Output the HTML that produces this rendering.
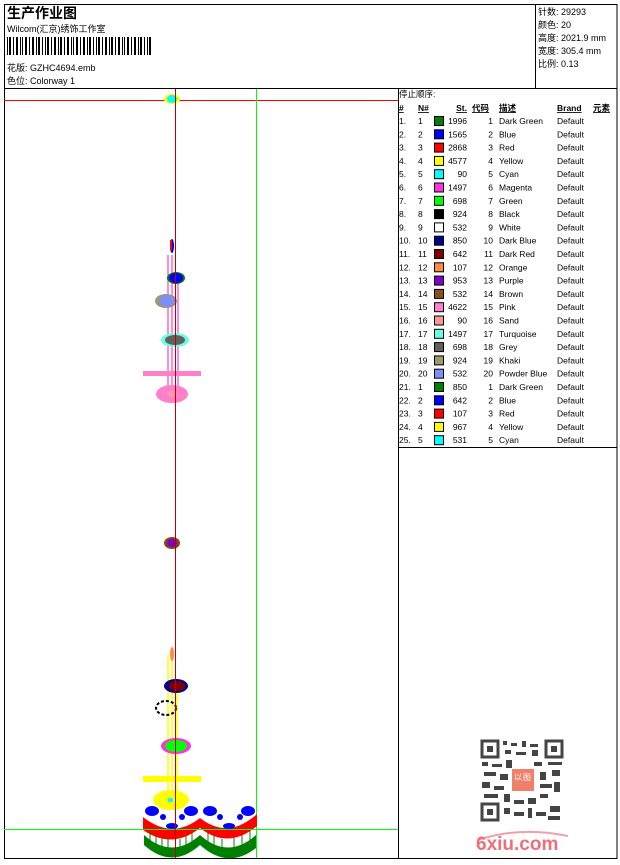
<!DOCTYPE html>
<html><head><meta charset="utf-8"><style>
body{margin:0;background:#fff;}
svg text{font-family:"Liberation Sans","Noto Sans CJK SC",sans-serif;fill:#000;}
</style></head><body>
<svg width="620" height="860" viewBox="0 0 620 860" xmlns="http://www.w3.org/2000/svg">
<rect x="0" y="0" width="620" height="860" fill="#fff"/>
<!-- frames -->
<rect x="4.5" y="4.5" width="612.5" height="854" fill="none" stroke="#000" stroke-width="1"/>
<line x1="4" y1="88.5" x2="617" y2="88.5" stroke="#000"/>
<line x1="535.5" y1="4" x2="535.5" y2="88" stroke="#000"/>
<line x1="398.5" y1="88" x2="398.5" y2="858" stroke="#000"/>
<line x1="398" y1="447.5" x2="617" y2="447.5" stroke="#000"/>
<!-- header -->
<text x="7" y="18" font-size="14" font-weight="bold">生产作业图</text>
<text x="7" y="32" font-size="9">Wilcom(汇京)绣饰工作室</text>
<g fill="#000">
<rect x="7" y="37" width="1" height="18"/><rect x="9" y="37" width="2" height="18"/><rect x="13" y="37" width="1" height="18"/><rect x="16" y="37" width="2" height="18"/><rect x="20" y="37" width="1" height="18"/><rect x="22" y="37" width="1" height="18"/><rect x="25" y="37" width="2" height="18"/><rect x="29" y="37" width="1" height="18"/><rect x="32" y="37" width="2" height="18"/><rect x="36" y="37" width="1" height="18"/><rect x="38" y="37" width="2" height="18"/><rect x="42" y="37" width="1" height="18"/><rect x="45" y="37" width="1" height="18"/><rect x="47" y="37" width="2" height="18"/><rect x="51" y="37" width="1" height="18"/><rect x="54" y="37" width="2" height="18"/><rect x="58" y="37" width="1" height="18"/><rect x="60" y="37" width="2" height="18"/><rect x="64" y="37" width="1" height="18"/><rect x="67" y="37" width="2" height="18"/><rect x="71" y="37" width="1" height="18"/><rect x="73" y="37" width="1" height="18"/><rect x="76" y="37" width="2" height="18"/><rect x="80" y="37" width="1" height="18"/><rect x="83" y="37" width="2" height="18"/><rect x="87" y="37" width="1" height="18"/><rect x="89" y="37" width="2" height="18"/><rect x="93" y="37" width="1" height="18"/><rect x="96" y="37" width="1" height="18"/><rect x="98" y="37" width="2" height="18"/><rect x="102" y="37" width="1" height="18"/><rect x="105" y="37" width="2" height="18"/><rect x="109" y="37" width="1" height="18"/><rect x="111" y="37" width="2" height="18"/><rect x="115" y="37" width="1" height="18"/><rect x="118" y="37" width="2" height="18"/><rect x="122" y="37" width="1" height="18"/><rect x="124" y="37" width="1" height="18"/><rect x="127" y="37" width="2" height="18"/><rect x="131" y="37" width="1" height="18"/><rect x="134" y="37" width="2" height="18"/><rect x="138" y="37" width="1" height="18"/><rect x="140" y="37" width="2" height="18"/><rect x="144" y="37" width="1" height="18"/><rect x="147" y="37" width="1" height="18"/><rect x="149" y="37" width="2" height="18"/>
</g>
<text x="7" y="71" font-size="9">花版:  GZHC4694.emb</text>
<text x="7" y="84" font-size="9">色位:  Colorway 1</text>
<text x="538" y="15" font-size="9">针数:  29293</text>
<text x="538" y="28" font-size="9">颜色:  20</text>
<text x="538" y="41" font-size="9">高度:  2021.9 mm</text>
<text x="538" y="54" font-size="9">宽度:  305.4 mm</text>
<text x="538" y="67" font-size="9">比例:  0.13</text>
<!-- guide lines -->
<line x1="4" y1="100.5" x2="398" y2="100.5" stroke="#f00"/>
<line x1="256.5" y1="89" x2="256.5" y2="858" stroke="#0f0"/>
<!-- top element -->
<ellipse cx="172" cy="99" rx="8" ry="5" fill="#ff0"/><ellipse cx="172" cy="99" rx="5" ry="4" fill="#0ff"/>
<!-- upper stack -->
<g stroke="#ff69c8" stroke-width="1.5"><line x1="168" y1="255" x2="168" y2="395"/><line x1="172" y1="255" x2="172" y2="395"/><line x1="178" y1="280" x2="178" y2="395"/></g>
<ellipse cx="172" cy="246" rx="2" ry="7" fill="#00f"/><rect x="170" y="240" width="2" height="10" fill="#f00"/>
<ellipse cx="176" cy="278" rx="9" ry="6" fill="#008000"/><ellipse cx="176" cy="278" rx="7" ry="5" fill="#00f"/>
<ellipse cx="166" cy="301" rx="11" ry="7" fill="#9a9a6a"/><ellipse cx="167" cy="301" rx="8" ry="6" fill="#7b8ff7"/>
<ellipse cx="175" cy="340" rx="14" ry="7" fill="#66ffe0"/><ellipse cx="175" cy="340" rx="10" ry="5" fill="#606060"/>
<rect x="143" y="371" width="58" height="5" fill="#ff80c8"/>
<ellipse cx="172" cy="394" rx="16" ry="9" fill="#ff80c8"/><ellipse cx="172" cy="394" rx="5" ry="3" fill="#f9a"/>
<!-- middle -->
<ellipse cx="172" cy="543" rx="8" ry="6" fill="#8b4513"/><ellipse cx="172" cy="543" rx="5" ry="4" fill="#7f00c8"/>
<!-- lower stack -->
<g stroke="#ff0" stroke-width="1.5"><line x1="168" y1="655" x2="168" y2="800"/><line x1="172" y1="655" x2="172" y2="800"/><line x1="177" y1="690" x2="177" y2="800"/></g>
<ellipse cx="172" cy="654" rx="2" ry="7" fill="#ff8c40"/>
<ellipse cx="176" cy="686" rx="12" ry="7" fill="#00008b"/><ellipse cx="177" cy="686" rx="8" ry="5" fill="#800000"/>
<ellipse cx="166" cy="708" rx="10" ry="7" fill="none" stroke="#000" stroke-width="2" stroke-dasharray="3 2"/>
<ellipse cx="176" cy="746" rx="15" ry="8" fill="#ff30e0"/><ellipse cx="176" cy="746" rx="11" ry="6" fill="#0f0"/>
<rect x="143" y="776" width="58" height="6" fill="#ff0"/>
<ellipse cx="171" cy="800" rx="18" ry="10" fill="#ff0"/><rect x="168" y="798" width="5" height="4" fill="#0ff"/>
<!-- border pattern -->
<g>
<path d="M144 835 Q172 860 200 835 Q228 860 256 835 L256 848 Q228 870 200 845 Q172 870 144 845Z" fill="#008000"/>
<path d="M143 817 L143 830 Q172 850 200 828 Q228 850 257 826 L257 814 Q228 840 200 818 Q172 840 143 817Z" fill="#f00"/>
<g stroke="#008000" stroke-width="1"><line x1="150" y1="832" x2="150" y2="842"/><line x1="156" y1="835" x2="156" y2="846"/><line x1="162" y1="838" x2="162" y2="849"/><line x1="168" y1="839" x2="168" y2="850"/><line x1="180" y1="839" x2="180" y2="850"/><line x1="186" y1="836" x2="186" y2="847"/><line x1="192" y1="833" x2="192" y2="844"/><line x1="208" y1="833" x2="208" y2="844"/><line x1="214" y1="836" x2="214" y2="847"/><line x1="222" y1="839" x2="222" y2="850"/><line x1="234" y1="838" x2="234" y2="849"/><line x1="242" y1="835" x2="242" y2="846"/><line x1="250" y1="831" x2="250" y2="842"/></g>
<g fill="#00f"><ellipse cx="152" cy="811" rx="7" ry="5"/><ellipse cx="191" cy="811" rx="7" ry="5"/><ellipse cx="210" cy="811" rx="7" ry="5"/><ellipse cx="248" cy="811" rx="7" ry="5"/><ellipse cx="172" cy="826" rx="6" ry="3"/><ellipse cx="229" cy="826" rx="6" ry="3"/><ellipse cx="163" cy="817" rx="3" ry="3"/><ellipse cx="182" cy="817" rx="3" ry="3"/><ellipse cx="220" cy="817" rx="3" ry="3"/><ellipse cx="240" cy="817" rx="3" ry="3"/></g>
</g>
<line x1="4" y1="829.5" x2="398" y2="829.5" stroke="#0f0"/>
<line x1="175.5" y1="89" x2="175.5" y2="858" stroke="#c00000"/>
<!-- table -->
<g font-size="8.5">
<text x="399" y="97">停止顺序:</text>
<g font-weight="bold" text-decoration="underline">
<text x="399" y="111">#</text><text x="418" y="111">N#</text><text x="467" y="111" text-anchor="end">St.</text><text x="472" y="111">代码</text><text x="499" y="111">描述</text><text x="557" y="111">Brand</text><text x="593" y="111">元素</text>
</g>
</g>
<g font-size="8.5" id="rows">
<g transform="translate(0,124)"><text x="399">1.</text><text x="418">1</text><rect x="434.5" y="-7.5" width="9" height="9" fill="#008000" stroke="#000"/><text x="467" text-anchor="end">1996</text><text x="493" text-anchor="end">1</text><text x="499">Dark Green</text><text x="557">Default</text></g>
<g transform="translate(0,137.3)"><text x="399">2.</text><text x="418">2</text><rect x="434.5" y="-7.5" width="9" height="9" fill="#00f" stroke="#000"/><text x="467" text-anchor="end">1565</text><text x="493" text-anchor="end">2</text><text x="499">Blue</text><text x="557">Default</text></g>
<g transform="translate(0,150.6)"><text x="399">3.</text><text x="418">3</text><rect x="434.5" y="-7.5" width="9" height="9" fill="#f00" stroke="#000"/><text x="467" text-anchor="end">2868</text><text x="493" text-anchor="end">3</text><text x="499">Red</text><text x="557">Default</text></g>
<g transform="translate(0,163.9)"><text x="399">4.</text><text x="418">4</text><rect x="434.5" y="-7.5" width="9" height="9" fill="#ff0" stroke="#000"/><text x="467" text-anchor="end">4577</text><text x="493" text-anchor="end">4</text><text x="499">Yellow</text><text x="557">Default</text></g>
<g transform="translate(0,177.2)"><text x="399">5.</text><text x="418">5</text><rect x="434.5" y="-7.5" width="9" height="9" fill="#0ff" stroke="#000"/><text x="467" text-anchor="end">90</text><text x="493" text-anchor="end">5</text><text x="499">Cyan</text><text x="557">Default</text></g>
<g transform="translate(0,190.5)"><text x="399">6.</text><text x="418">6</text><rect x="434.5" y="-7.5" width="9" height="9" fill="#ff30e0" stroke="#000"/><text x="467" text-anchor="end">1497</text><text x="493" text-anchor="end">6</text><text x="499">Magenta</text><text x="557">Default</text></g>
<g transform="translate(0,203.8)"><text x="399">7.</text><text x="418">7</text><rect x="434.5" y="-7.5" width="9" height="9" fill="#0f0" stroke="#000"/><text x="467" text-anchor="end">698</text><text x="493" text-anchor="end">7</text><text x="499">Green</text><text x="557">Default</text></g>
<g transform="translate(0,217.1)"><text x="399">8.</text><text x="418">8</text><rect x="434.5" y="-7.5" width="9" height="9" fill="#000" stroke="#000"/><text x="467" text-anchor="end">924</text><text x="493" text-anchor="end">8</text><text x="499">Black</text><text x="557">Default</text></g>
<g transform="translate(0,230.4)"><text x="399">9.</text><text x="418">9</text><rect x="434.5" y="-7.5" width="9" height="9" fill="#fff" stroke="#000"/><text x="467" text-anchor="end">532</text><text x="493" text-anchor="end">9</text><text x="499">White</text><text x="557">Default</text></g>
<g transform="translate(0,243.7)"><text x="399">10.</text><text x="418">10</text><rect x="434.5" y="-7.5" width="9" height="9" fill="#00008b" stroke="#000"/><text x="467" text-anchor="end">850</text><text x="493" text-anchor="end">10</text><text x="499">Dark Blue</text><text x="557">Default</text></g>
<g transform="translate(0,257)"><text x="399">11.</text><text x="418">11</text><rect x="434.5" y="-7.5" width="9" height="9" fill="#800000" stroke="#000"/><text x="467" text-anchor="end">642</text><text x="493" text-anchor="end">11</text><text x="499">Dark Red</text><text x="557">Default</text></g>
<g transform="translate(0,270.3)"><text x="399">12.</text><text x="418">12</text><rect x="434.5" y="-7.5" width="9" height="9" fill="#ff8c40" stroke="#000"/><text x="467" text-anchor="end">107</text><text x="493" text-anchor="end">12</text><text x="499">Orange</text><text x="557">Default</text></g>
<g transform="translate(0,283.6)"><text x="399">13.</text><text x="418">13</text><rect x="434.5" y="-7.5" width="9" height="9" fill="#7f00c8" stroke="#000"/><text x="467" text-anchor="end">953</text><text x="493" text-anchor="end">13</text><text x="499">Purple</text><text x="557">Default</text></g>
<g transform="translate(0,296.9)"><text x="399">14.</text><text x="418">14</text><rect x="434.5" y="-7.5" width="9" height="9" fill="#8b5020" stroke="#000"/><text x="467" text-anchor="end">532</text><text x="493" text-anchor="end">14</text><text x="499">Brown</text><text x="557">Default</text></g>
<g transform="translate(0,310.2)"><text x="399">15.</text><text x="418">15</text><rect x="434.5" y="-7.5" width="9" height="9" fill="#ff80c8" stroke="#000"/><text x="467" text-anchor="end">4622</text><text x="493" text-anchor="end">15</text><text x="499">Pink</text><text x="557">Default</text></g>
<g transform="translate(0,323.5)"><text x="399">16.</text><text x="418">16</text><rect x="434.5" y="-7.5" width="9" height="9" fill="#f99890" stroke="#000"/><text x="467" text-anchor="end">90</text><text x="493" text-anchor="end">16</text><text x="499">Sand</text><text x="557">Default</text></g>
<g transform="translate(0,336.8)"><text x="399">17.</text><text x="418">17</text><rect x="434.5" y="-7.5" width="9" height="9" fill="#66ffe0" stroke="#000"/><text x="467" text-anchor="end">1497</text><text x="493" text-anchor="end">17</text><text x="499">Turquoise</text><text x="557">Default</text></g>
<g transform="translate(0,350.1)"><text x="399">18.</text><text x="418">18</text><rect x="434.5" y="-7.5" width="9" height="9" fill="#606060" stroke="#000"/><text x="467" text-anchor="end">698</text><text x="493" text-anchor="end">18</text><text x="499">Grey</text><text x="557">Default</text></g>
<g transform="translate(0,363.4)"><text x="399">19.</text><text x="418">19</text><rect x="434.5" y="-7.5" width="9" height="9" fill="#9a9a6a" stroke="#000"/><text x="467" text-anchor="end">924</text><text x="493" text-anchor="end">19</text><text x="499">Khaki</text><text x="557">Default</text></g>
<g transform="translate(0,376.7)"><text x="399">20.</text><text x="418">20</text><rect x="434.5" y="-7.5" width="9" height="9" fill="#7b8ff7" stroke="#000"/><text x="467" text-anchor="end">532</text><text x="493" text-anchor="end">20</text><text x="499">Powder Blue</text><text x="557">Default</text></g>
<g transform="translate(0,390)"><text x="399">21.</text><text x="418">1</text><rect x="434.5" y="-7.5" width="9" height="9" fill="#008000" stroke="#000"/><text x="467" text-anchor="end">850</text><text x="493" text-anchor="end">1</text><text x="499">Dark Green</text><text x="557">Default</text></g>
<g transform="translate(0,403.3)"><text x="399">22.</text><text x="418">2</text><rect x="434.5" y="-7.5" width="9" height="9" fill="#00f" stroke="#000"/><text x="467" text-anchor="end">642</text><text x="493" text-anchor="end">2</text><text x="499">Blue</text><text x="557">Default</text></g>
<g transform="translate(0,416.6)"><text x="399">23.</text><text x="418">3</text><rect x="434.5" y="-7.5" width="9" height="9" fill="#f00" stroke="#000"/><text x="467" text-anchor="end">107</text><text x="493" text-anchor="end">3</text><text x="499">Red</text><text x="557">Default</text></g>
<g transform="translate(0,429.9)"><text x="399">24.</text><text x="418">4</text><rect x="434.5" y="-7.5" width="9" height="9" fill="#ff0" stroke="#000"/><text x="467" text-anchor="end">967</text><text x="493" text-anchor="end">4</text><text x="499">Yellow</text><text x="557">Default</text></g>
<g transform="translate(0,443.2)"><text x="399">25.</text><text x="418">5</text><rect x="434.5" y="-7.5" width="9" height="9" fill="#0ff" stroke="#000"/><text x="467" text-anchor="end">531</text><text x="493" text-anchor="end">5</text><text x="499">Cyan</text><text x="557">Default</text></g>
</g>
<!-- QR -->
<g fill="#444">
<rect x="481" y="740" width="82" height="80" fill="#fff"/>
<rect x="482" y="741" width="16" height="16" fill="none" stroke="#444" stroke-width="3"/>
<rect x="546" y="741" width="16" height="16" fill="none" stroke="#444" stroke-width="3"/>
<rect x="482" y="804" width="16" height="16" fill="none" stroke="#444" stroke-width="3"/>
<rect x="487" y="746" width="6" height="6"/><rect x="551" y="746" width="6" height="6"/><rect x="487" y="809" width="6" height="6"/>
<rect x="503" y="741" width="4" height="4"/><rect x="511" y="743" width="6" height="3"/><rect x="522" y="741" width="4" height="6"/><rect x="530" y="744" width="8" height="3"/><rect x="505" y="750" width="6" height="4"/><rect x="516" y="752" width="10" height="3"/><rect x="532" y="750" width="6" height="6"/>
<rect x="482" y="762" width="6" height="4"/><rect x="492" y="764" width="10" height="3"/><rect x="506" y="760" width="6" height="8"/><rect x="534" y="762" width="8" height="4"/><rect x="548" y="762" width="14" height="3"/>
<rect x="484" y="772" width="12" height="4"/><rect x="500" y="774" width="8" height="6"/><rect x="540" y="772" width="6" height="8"/><rect x="552" y="770" width="8" height="6"/>
<rect x="482" y="782" width="8" height="6"/><rect x="494" y="786" width="10" height="4"/><rect x="540" y="784" width="12" height="4"/><rect x="554" y="782" width="6" height="10"/>
<rect x="484" y="794" width="14" height="4"/><rect x="504" y="794" width="6" height="8"/><rect x="514" y="800" width="10" height="4"/><rect x="528" y="798" width="8" height="6"/><rect x="540" y="794" width="8" height="4"/>
<rect x="504" y="808" width="6" height="6"/><rect x="514" y="812" width="10" height="4"/><rect x="528" y="808" width="4" height="10"/><rect x="536" y="812" width="10" height="4"/><rect x="550" y="806" width="10" height="6"/><rect x="548" y="816" width="12" height="4"/>
</g>
<rect x="512" y="769" width="22" height="22" fill="#f0806a"/>
<text x="514" y="780" font-size="8" style="fill:#fff">以</text><text x="523" y="780" font-size="8" style="fill:#fff">图</text>
<path d="M478 840 Q520 826 568 836" stroke="#f0a0a8" stroke-width="2" fill="none"/>
<text x="476" y="850" font-size="19" font-weight="bold" style="fill:#ee6f7a">6xiu.com</text>
</svg>
</body></html>
